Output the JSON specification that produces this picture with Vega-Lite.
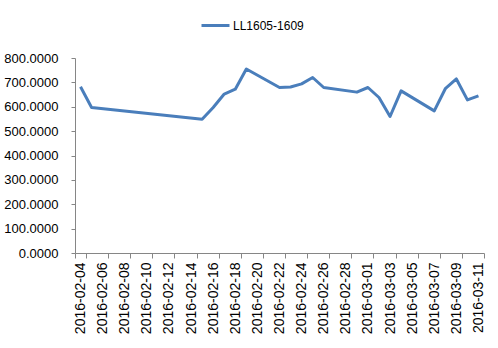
{
  "$schema": "https://vega.github.io/schema/vega-lite/v6.json",
  "width": 409,
  "height": 195,
  "autosize": {"type": "none"},
  "padding": {"left": 75, "top": 58, "right": 14, "bottom": 95},
  "background": "white",
  "config": {"view": {"stroke": null}},
  "data": {
    "values": [
      {"date": "2016-02-04", "value": 682, "series": "LL1605-1609"},
      {"date": "2016-02-05", "value": 597, "series": "LL1605-1609"},
      {"date": "2016-02-15", "value": 549, "series": "LL1605-1609"},
      {"date": "2016-02-16", "value": 597, "series": "LL1605-1609"},
      {"date": "2016-02-17", "value": 652, "series": "LL1605-1609"},
      {"date": "2016-02-18", "value": 672, "series": "LL1605-1609"},
      {"date": "2016-02-19", "value": 755, "series": "LL1605-1609"},
      {"date": "2016-02-22", "value": 679, "series": "LL1605-1609"},
      {"date": "2016-02-23", "value": 681, "series": "LL1605-1609"},
      {"date": "2016-02-24", "value": 694, "series": "LL1605-1609"},
      {"date": "2016-02-25", "value": 720, "series": "LL1605-1609"},
      {"date": "2016-02-26", "value": 679, "series": "LL1605-1609"},
      {"date": "2016-02-29", "value": 660, "series": "LL1605-1609"},
      {"date": "2016-03-01", "value": 679, "series": "LL1605-1609"},
      {"date": "2016-03-02", "value": 638, "series": "LL1605-1609"},
      {"date": "2016-03-03", "value": 560, "series": "LL1605-1609"},
      {"date": "2016-03-04", "value": 665, "series": "LL1605-1609"},
      {"date": "2016-03-07", "value": 583, "series": "LL1605-1609"},
      {"date": "2016-03-08", "value": 674, "series": "LL1605-1609"},
      {"date": "2016-03-09", "value": 714, "series": "LL1605-1609"},
      {"date": "2016-03-10", "value": 628, "series": "LL1605-1609"},
      {"date": "2016-03-11", "value": 645, "series": "LL1605-1609"}
    ]
  },
  "mark": {"type": "line", "strokeWidth": 3, "strokeJoin": "round"},
  "encoding": {
    "x": {
      "field": "date",
      "type": "ordinal",
      "bandPosition": 0.5,
      "scale": {
        "type": "band",
        "paddingInner": 0,
        "paddingOuter": 0,
        "domain": ["2016-02-04","2016-02-05","2016-02-06","2016-02-07","2016-02-08","2016-02-09","2016-02-10","2016-02-11","2016-02-12","2016-02-13","2016-02-14","2016-02-15","2016-02-16","2016-02-17","2016-02-18","2016-02-19","2016-02-20","2016-02-21","2016-02-22","2016-02-23","2016-02-24","2016-02-25","2016-02-26","2016-02-27","2016-02-28","2016-02-29","2016-03-01","2016-03-02","2016-03-03","2016-03-04","2016-03-05","2016-03-06","2016-03-07","2016-03-08","2016-03-09","2016-03-10","2016-03-11"]
      },
      "axis": {
        "title": null,
        "values": ["2016-02-04","2016-02-06","2016-02-08","2016-02-10","2016-02-12","2016-02-14","2016-02-16","2016-02-18","2016-02-20","2016-02-22","2016-02-24","2016-02-26","2016-02-28","2016-03-01","2016-03-03","2016-03-05","2016-03-07","2016-03-09","2016-03-11"],
        "tickBand": "extent",
        "labelAngle": -90,
        "labelFont": "Liberation Sans",
        "labelFontSize": 14,
        "labelColor": "#000000",
        "labelPadding": 4,
        "labelOverlap": false,
        "labelBaseline": "middle",
        "domainColor": "#868686",
        "tickColor": "#868686",
        "tickSize": 5,
        "grid": false
      }
    },
    "y": {
      "field": "value",
      "type": "quantitative",
      "scale": {"domain": [0, 800], "nice": false},
      "axis": {
        "title": null,
        "values": [0, 100, 200, 300, 400, 500, 600, 700, 800],
        "format": ".4f",
        "labelFont": "Liberation Sans",
        "labelFontSize": 13,
        "labelColor": "#000000",
        "labelPadding": 13,
        "domainColor": "#868686",
        "tickColor": "#868686",
        "tickSize": 4,
        "grid": false
      }
    },
    "color": {
      "field": "series",
      "type": "nominal",
      "scale": {"range": ["#4A7EBB"]},
      "legend": {
        "title": null,
        "orient": "none",
        "legendX": 125,
        "legendY": -48,
        "padding": 0,
        "symbolType": "stroke",
        "symbolSize": 784,
        "symbolStrokeWidth": 3,
        "labelFont": "Liberation Sans",
        "labelFontSize": 12,
        "labelColor": "#000000",
        "labelOffset": 2
      }
    }
  }
}
